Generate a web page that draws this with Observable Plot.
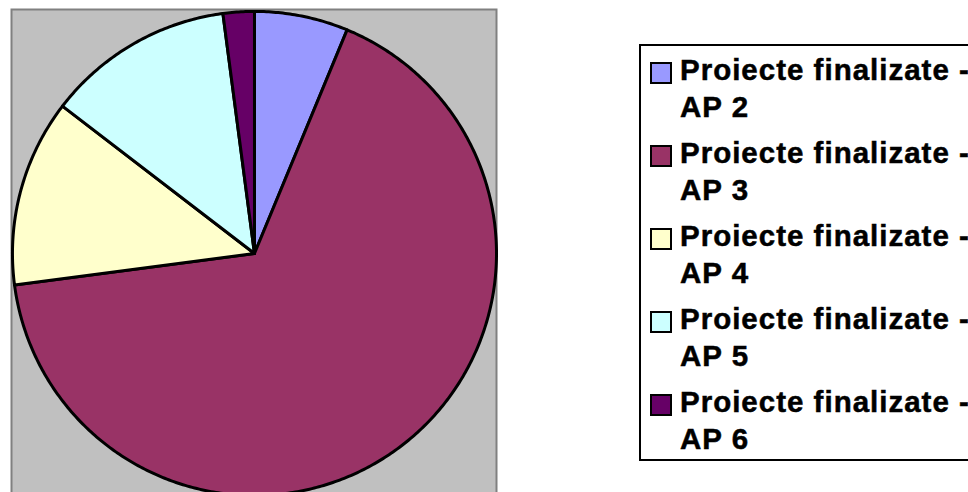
<!DOCTYPE html>
<html>
<head>
<meta charset="utf-8">
<script src="https://cdn.jsdelivr.net/npm/d3@7"></script>
<script src="https://cdn.jsdelivr.net/npm/@observablehq/plot@0.6"></script>
<style>
  html, body { margin: 0; padding: 0; background: #fff; overflow: hidden; }
  #wrap { position: relative; width: 968px; height: 492px; overflow: hidden; }
  #legend {
    position: absolute; left: 639px; top: 44px; width: 360px; height: 417px;
    box-sizing: border-box; border: 2px solid #000; background: #fff;
    font-family: "Liberation Sans", Arial, sans-serif; font-weight: bold;
    font-size: 29.5px; letter-spacing: 1px; color: #000;
    -webkit-text-stroke: 0.5px #000;
  }
  .item { position: absolute; left: 39px; line-height: 37.4px; white-space: nowrap; }
  .sw { position: absolute; left: -30px; top: 11.3px; width: 22px; height: 22px;
        box-sizing: border-box; border: 2px solid #000; }
</style>
</head>
<body>
<div id="wrap"></div>
<script>
const labels = ["Proiecte finalizate - AP 2", "Proiecte finalizate - AP 3", "Proiecte finalizate - AP 4", "Proiecte finalizate - AP 5", "Proiecte finalizate - AP 6"];
const legendLine1 = ["Proiecte finalizate -", "Proiecte finalizate -", "Proiecte finalizate -", "Proiecte finalizate -", "Proiecte finalizate -"];
const legendLine2 = ["AP 2", "AP 3", "AP 4", "AP 5", "AP 6"];
const values = [3, 32, 6, 6, 1];
const colors = ["#9999FF", "#993366", "#FFFFCC", "#CCFFFF", "#660066"];

const rows = labels.map((label, i) => ({label, value: values[i]}));
const arcs = d3.pie().sort(null).value(d => d.value).startAngle(0).endAngle(2 * Math.PI)(rows);

// slice outlines in unit-circle data space
const pts = [];
for (const a of arcs) {
  const label = a.data.label;
  pts.push({label, x: 0, y: 0});
  const n = Math.max(8, Math.ceil((a.endAngle - a.startAngle) / 0.01));
  for (let k = 0; k <= n; k++) {
    const t = a.startAngle + (a.endAngle - a.startAngle) * k / n;
    pts.push({label, x: Math.sin(t), y: Math.cos(t)});
  }
}

const chart = Plot.plot({
  width: 968,
  height: 492,
  marginLeft: 11,
  marginTop: 9,
  marginRight: 472,
  marginBottom: -4,
  style: {background: "transparent", overflow: "hidden"},
  x: {domain: [-1.004, 1.0], axis: null},
  y: {domain: [-1.004, 1.008], axis: null},
  color: {type: "ordinal", domain: labels, range: colors},
  marks: [
    Plot.frame({fill: "#C0C0C0", stroke: "#808080", strokeWidth: 2}),
    Plot.line(pts, {x: "x", y: "y", z: "label", fill: "label", stroke: "#000", strokeWidth: 3, strokeLinejoin: "round", curve: "linear-closed"})
  ]
});

const wrap = document.getElementById("wrap");
wrap.appendChild(chart);

const color = chart.scale("color");
const legend = document.createElement("div");
legend.id = "legend";
labels.forEach((lab, i) => {
  const item = document.createElement("div");
  item.className = "item";
  item.style.top = (4.6 + i * 83.1) + "px";
  const sw = document.createElement("div");
  sw.className = "sw";
  sw.style.background = color.apply(lab);
  item.appendChild(sw);
  item.appendChild(document.createTextNode(legendLine1[i]));
  item.appendChild(document.createElement("br"));
  item.appendChild(document.createTextNode(legendLine2[i]));
  legend.appendChild(item);
});
wrap.appendChild(legend);
</script>
</body>
</html>
